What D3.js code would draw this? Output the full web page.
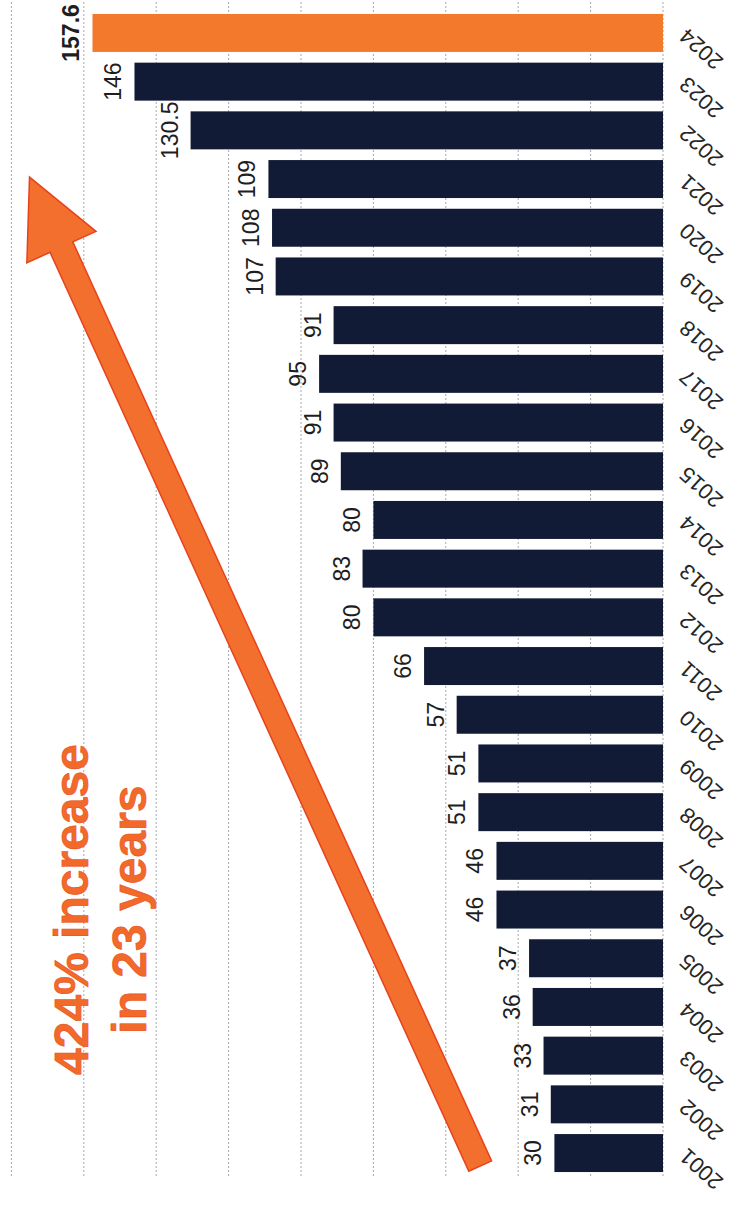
<!DOCTYPE html>
<html>
<head>
<meta charset="utf-8">
<script src="https://d3js.org/d3.v7.min.js"></script>
<style>
  body { margin: 0; background: #fff; }
  svg { display: block; font-family: "Liberation Sans", Arial, sans-serif; }
</style>
</head>
<body>
<div id="chart"></div>
<script>
// data
var years = ["2024","2023","2022","2021","2020","2019","2018","2017","2016","2015","2014","2013",
             "2012","2011","2010","2009","2008","2007","2006","2005","2004","2003","2002","2001"]
var values = [157.6,146,130.5,109,108,107,91,95,91,89,80,83,80,66,57,51,51,46,46,37,36,33,31,30]
var valueLabels = ["157.6","146","130.5","109","108","107","91","95","91","89","80","83",
                   "80","66","57","51","51","46","46","37","36","33","31","30"]
var gridTicks = [0,20,40,60,80,100,120,140,160,180]
var highlightYear = "2024"
var noteLines = ["424% increase", "in 23 years"]

var width = 736
var height = 1207

var svg = d3.select("#chart")
    .append("svg")
    .attr("width", width)
    .attr("height", height)

// bars grow leftwards from the baseline on the right
var x = d3.scaleLinear()
    .domain([0, 180])
    .range([663, 11.4])

var y = d3.scaleBand()
    .domain(years)
    .range([8.6, 1177.4])
    .paddingInner(0.22)
    .paddingOuter(0.11)

var yMid = function(yr) { return y(yr) + y.bandwidth() / 2 }

// dotted grid lines
svg.append("g")
    .selectAll("line")
    .data(gridTicks)
    .enter()
    .append("line")
    .attr("x1", function(d) { return x(d) })
    .attr("x2", function(d) { return x(d) })
    .attr("y1", 2)
    .attr("y2", 1178)
    .attr("stroke", "#a4a8b0")
    .attr("stroke-width", 1)
    .attr("stroke-dasharray", "2,2")

var rows = years.map(function(yr, i) {
    return {year: yr, value: values[i], label: valueLabels[i]}
})

svg.append("g")
    .selectAll("rect")
    .data(rows)
    .enter()
    .append("rect")
    .attr("x", function(d) { return x(d.value) })
    .attr("y", function(d) { return y(d.year) })
    .attr("width", function(d) { return x(0) - x(d.value) })
    .attr("height", y.bandwidth())
    .attr("fill", function(d) { return d.year == highlightYear ? "#f37a2c" : "#121b36" })

// value labels, turned to read bottom to top
svg.append("g")
    .selectAll("text")
    .data(rows)
    .enter()
    .append("text")
    .attr("transform", function(d) {
        return "translate(" + (x(d.value) - 13) + "," + yMid(d.year) + ") rotate(-90)"
    })
    .attr("text-anchor", "middle")
    .attr("font-size", 23)
    .attr("font-weight", function(d) { return d.year == highlightYear ? "bold" : "normal" })
    .attr("fill", "#1e1e1e")
    .text(function(d) { return d.label })

// year labels, slanted
svg.append("g")
    .selectAll("text")
    .data(years)
    .enter()
    .append("text")
    .attr("transform", function(d) {
        return "translate(" + 688 + "," + (yMid(d) - 6) + ") rotate(222)"
    })
    .attr("text-anchor", "end")
    .attr("font-size", 22)
    .attr("fill", "#262626")
    .text(function(d) { return d })

// the big orange arrow
var drawArrow = function(tail, tip, shaftW, headW, headL) {
    var dx = tip[0] - tail[0], dy = tip[1] - tail[1]
    var len = Math.sqrt(dx * dx + dy * dy)
    var ux = dx / len, uy = dy / len
    var nx = -uy, ny = ux
    var bx = tip[0] - ux * headL, by = tip[1] - uy * headL
    var pts = [
        [tail[0] + nx * shaftW / 2, tail[1] + ny * shaftW / 2],
        [bx + nx * shaftW / 2, by + ny * shaftW / 2],
        [bx + nx * headW / 2, by + ny * headW / 2],
        tip,
        [bx - nx * headW / 2, by - ny * headW / 2],
        [bx - nx * shaftW / 2, by - ny * shaftW / 2],
        [tail[0] - nx * shaftW / 2, tail[1] - ny * shaftW / 2]
    ]
    svg.append("polygon")
        .attr("points", pts.map(function(p) { return p.join(",") }).join(" "))
        .attr("fill", "#f26f2e")
        .attr("stroke", "#e8421c")
        .attr("stroke-width", 1.5)
        .attr("stroke-linejoin", "miter")
}
drawArrow([x(50.5), yMid("2001") + 13], [x(175), yMid("2021") - 2], 25, 76, 77)

// annotation text
var note = svg.append("text")
    .attr("transform", "translate(0," + yMid("2006") + ") rotate(-90)")
    .attr("text-anchor", "middle")
    .attr("font-size", 48)
    .attr("font-weight", "bold")
    .attr("fill", "#f26a2a")
    .attr("stroke", "#e8501f")
    .attr("stroke-width", 0.6)

note.selectAll("tspan")
    .data(noteLines)
    .enter()
    .append("tspan")
    .attr("x", 0)
    .attr("y", function(d, i) { return i == 0 ? x(158.8) : x(142.8) })
    .text(function(d) { return d })
</script>
</body>
</html>
